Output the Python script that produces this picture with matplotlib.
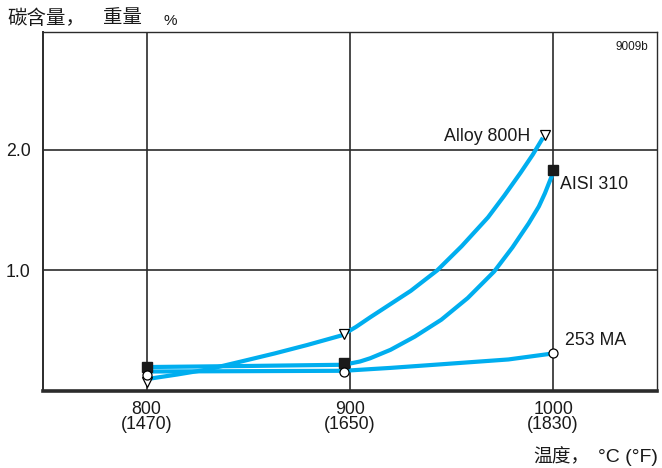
import matplotlib.pyplot as plt

plt.rcParams['font.family'] = ['Liberation Sans', 'Noto Sans CJK SC', 'DejaVu Sans']

# carbon pick-up curves (temperature degC, carbon wt%)
t_800h = [800, 815, 830, 847, 863, 879, 896, 903, 910, 920, 930, 943,
          955, 968, 976, 984, 990, 995]
c_800h = [0.097, 0.135, 0.177, 0.245, 0.31, 0.38, 0.46, 0.53, 0.61, 0.72,
          0.83, 1.00, 1.20, 1.44, 1.62, 1.81, 1.96, 2.10]
t_310 = [800, 850, 897, 905, 910, 920, 932, 945, 958, 971, 980, 988,
         993, 996, 1000]
c_310 = [0.197, 0.206, 0.216, 0.243, 0.27, 0.34, 0.45, 0.59, 0.77, 0.99,
         1.19, 1.39, 1.53, 1.64, 1.81]
t_253 = [800, 850, 897, 920, 945, 978, 1000]
c_253 = [0.16, 0.163, 0.166, 0.19, 0.22, 0.26, 0.31]

# measured points
mt_800h = [800, 897, 996]
mc_800h = [0.075, 0.47, 2.12]
mt_310 = [800, 897, 1000]
mc_310 = [0.20, 0.23, 1.83]
mt_253 = [800, 897, 1000]
mc_253 = [0.133, 0.16, 0.31]

xticks = [800, 900, 1000]
xlabels = ['800\n(1470)', '900\n(1650)', '1000\n(1830)']
yticks = [1.0, 2.0]

blue = '#00aeef'
dark = '#2b2b2b'
ink = '#1a1a1a'

fig = plt.figure(figsize=(6.62, 4.68), dpi=100)
ax = fig.add_axes([0.065, 0.165, 0.927, 0.767])

for t, c in [(t_800h, c_800h), (t_310, c_310), (t_253, c_253)]:
    ax.plot(t, c, color=blue, lw=3.0, solid_capstyle='butt',
            solid_joinstyle='round', zorder=3)

ax.plot(mt_800h, mc_800h, ls='none', marker='v', ms=6.5, mfc='white',
        mec='black', mew=0.9, zorder=4)
ax.plot(mt_310, mc_310, ls='none', marker='s', ms=6.5, mfc=ink,
        mec=ink, zorder=4)
ax.plot(mt_253, mc_253, ls='none', marker='o', ms=6.5, mfc='white',
        mec='black', mew=0.9, zorder=4)

ax.set_xlim(749, 1051)
ax.set_ylim(0, 2.98)
ax.set_xticks(xticks)
ax.set_xticklabels(xlabels, linespacing=0.85)
ax.set_yticks(yticks)
ax.set_yticklabels(['1.0', '2.0'])
ax.tick_params(length=0, labelsize=12.8, colors=ink, pad=7)
ax.tick_params(axis='y', pad=9)
ax.grid(True, color=dark, lw=1.2)
ax.set_axisbelow(True)

for side in ['top', 'right']:
    ax.spines[side].set_linewidth(1.0)
    ax.spines[side].set_color(dark)
ax.spines['left'].set_linewidth(1.4)
ax.spines['left'].set_color(dark)
ax.spines['bottom'].set_linewidth(2.6)
ax.spines['bottom'].set_color(dark)

ax.text(988.7, 2.11, 'Alloy 800H', fontsize=12.8, ha='right', va='center',
        color=ink)
ax.text(1003.4, 1.71, 'AISI 310', fontsize=12.8, ha='left', va='center',
        color=ink)
ax.text(1006, 0.42, '253 MA', fontsize=12.8, ha='left', va='center',
        color=ink)
ax.text(1047, 2.855, '9009b', fontsize=8.5, ha='right', va='center',
        color=ink)

# axis titles
fig.text(7 / 662, 1 - 19 / 468, '碳含量，', fontsize=14, ha='left',
         va='center', color=ink)
fig.text(103 / 662, 1 - 19 / 468, '重量', fontsize=14, ha='left',
         va='center', color=ink)
fig.text(163 / 662, 1 - 21 / 468, '%', fontsize=11, ha='left',
         va='center', color=ink)
fig.text(533 / 662, 1 - 457 / 468, '温度，', fontsize=13.5, ha='left',
         va='center', color=ink)
fig.text(658 / 662, 1 - 457 / 468, '°C (°F)', fontsize=14, ha='right',
         va='center', color=ink)

fig.savefig('out.png', dpi=100)
